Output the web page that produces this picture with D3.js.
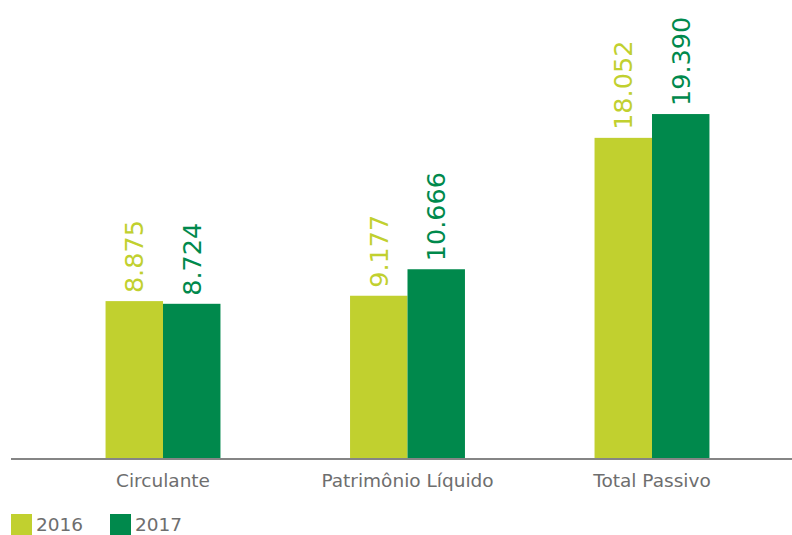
<!DOCTYPE html>
<html>
<head>
<meta charset="utf-8">
<script src="https://cdn.jsdelivr.net/npm/d3@7"></script>
<style>
  body { margin: 0; background: #fff; }
  svg { display: block; }
</style>
</head>
<body>
<svg id="chart" width="792" height="535"></svg>
<script>
var categories = ["Circulante", "Patrimônio Líquido", "Total Passivo"]
var years = ["2016", "2017"]
var values2016 = [8875, 9177, 18052]
var values2017 = [8724, 10666, 19390]
var valueLabels2016 = ["8.875", "9.177", "18.052"]
var valueLabels2017 = ["8.724", "10.666", "19.390"]

var colors = { "2016": "#c1d02f", "2017": "#00894c" }
var font = "'DejaVu Sans', sans-serif"

var svg = d3.select("#chart")
var baseY = 459

var x = d3.scaleBand().domain(categories).range([41, 774]).paddingInner(0.53).paddingOuter(0.264)
var xs = d3.scaleBand().domain(years).range([0, x.bandwidth()])
var y = d3.scaleLinear().domain([0, 20000]).range([baseY, baseY - 355.8])

var rows = categories.map((c, i) => ({
	cat: c,
	items: [
		{ year: "2016", v: values2016[i], label: valueLabels2016[i] },
		{ year: "2017", v: values2017[i], label: valueLabels2017[i] }
	]
}))

var groups = svg.selectAll(".group").data(rows).enter().append("g")
	.attr("class", "group")
	.attr("transform", d => "translate(" + x(d.cat) + ",0)")

groups.selectAll("rect").data(d => d.items).enter().append("rect")
	.attr("x", d => xs(d.year))
	.attr("width", xs.bandwidth())
	.attr("y", d => y(d.v))
	.attr("height", d => baseY - y(d.v))
	.attr("fill", d => colors[d.year])

groups.selectAll(".val").data(d => d.items).enter().append("text")
	.attr("class", "val")
	.attr("transform", d => "translate(" + (xs(d.year) + xs.bandwidth() / 2) + "," + (y(d.v) - 8) + ") rotate(-90)")
	.attr("dy", "0.36em")
	.style("font-family", font)
	.style("font-size", "25.5px")
	.style("fill", d => colors[d.year])
	.text(d => d.label)

// axis line + category labels
svg.append("line")
	.attr("x1", 11).attr("x2", 792)
	.attr("y1", baseY).attr("y2", baseY)
	.attr("stroke", "#858585").attr("stroke-width", 2)

svg.selectAll(".cat").data(categories).enter().append("text")
	.attr("class", "cat")
	.attr("x", d => x(d) + x.bandwidth() / 2)
	.attr("y", 487)
	.attr("text-anchor", "middle")
	.style("font-family", font)
	.style("font-size", "18.5px")
	.style("fill", "#6e6e6e")
	.text(d => d)

// legend
var legend = svg.selectAll(".leg").data(years).enter().append("g")
	.attr("class", "leg")
	.attr("transform", (d, i) => "translate(" + (11 + i * 99) + ",514)")

legend.append("rect")
	.attr("width", 21).attr("height", 21)
	.attr("fill", d => colors[d])

legend.append("text")
	.attr("x", 25).attr("y", 16.5)
	.style("font-family", font)
	.style("font-size", "18.5px")
	.style("fill", "#6e6e6e")
	.text(d => d)
</script>
</body>
</html>
